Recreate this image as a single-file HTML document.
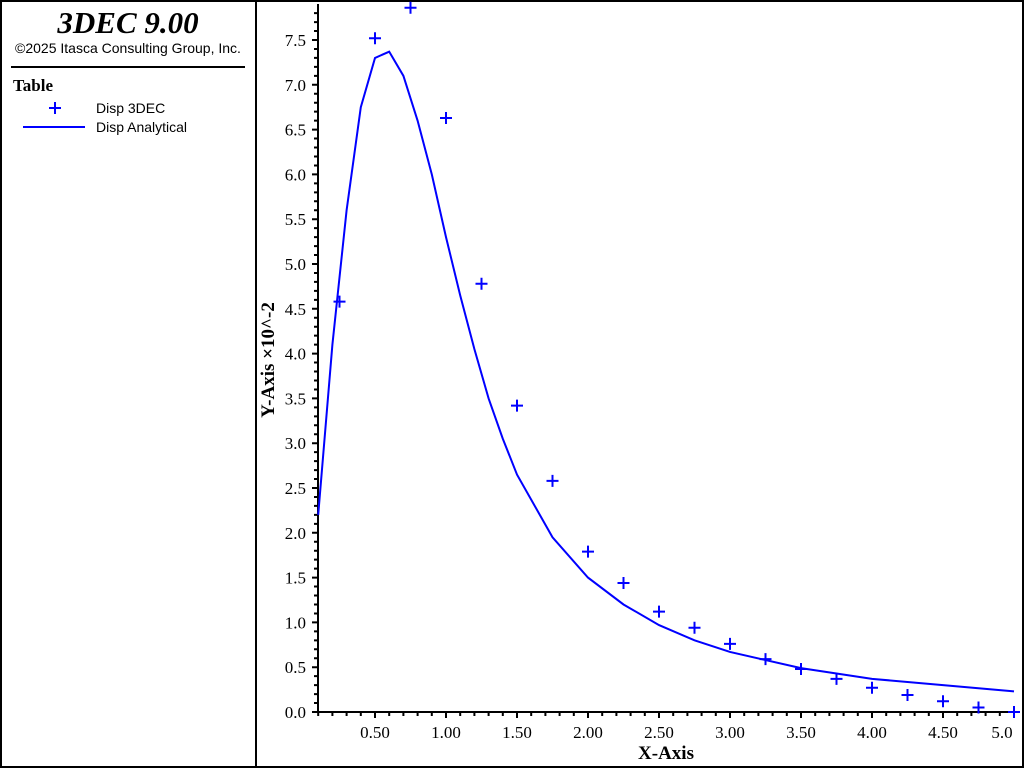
<!DOCTYPE html>
<html><head><meta charset="utf-8"><style>
body{margin:0;background:#fff;}
svg{display:block;font-family:"Liberation Serif",serif;}
</style></head><body>
<svg width="1024" height="768">
<rect x="1" y="1" width="1022" height="766" fill="#fff" stroke="#000" stroke-width="2"/>
<line x1="256" y1="0" x2="256" y2="768" stroke="#000" stroke-width="2"/>
<text x="128" y="33" text-anchor="middle" font-size="31" font-weight="bold" font-style="italic">3DEC 9.00</text>
<text x="128" y="53" text-anchor="middle" font-size="14" font-family="Liberation Sans, sans-serif">©2025 Itasca Consulting Group, Inc.</text>
<line x1="11" y1="67" x2="245" y2="67" stroke="#000" stroke-width="2"/>
<text x="13" y="91" font-size="17" font-weight="bold">Table</text>
<g>
<path d="M49 108h12M55 102v12" stroke="#00f" stroke-width="2"/>
<text x="96" y="113" font-size="14" font-family="Liberation Sans, sans-serif">Disp 3DEC</text></g>
<g>
<line x1="23" y1="127" x2="85" y2="127" stroke="#00f" stroke-width="2"/>
<text x="96" y="132" font-size="14" font-family="Liberation Sans, sans-serif">Disp Analytical</text></g>
<g id="axes"></g>
<g id="marks"></g>
<text x="666" y="759" text-anchor="middle" font-size="19" font-weight="bold">X-Axis</text>
<text transform="translate(274,360) rotate(-90)" text-anchor="middle" font-size="19" font-weight="bold">Y-Axis ×10^-2</text>
</svg>
<script>
const xTicks=[0.5,1,1.5,2,2.5,3,3.5,4,4.5,5];
const xTickLabels=["0.50","1.00","1.50","2.00","2.50","3.00","3.50","4.00","4.50","5.0"];
const yTicks=[0,0.5,1,1.5,2,2.5,3,3.5,4,4.5,5,5.5,6,6.5,7,7.5];
const pointsX=[0.25,0.5,0.75,1,1.25,1.5,1.75,2,2.25,2.5,2.75,3,3.25,3.5,3.75,4,4.25,4.5,4.75,5];
const pointsY=[4.58,7.52,7.86,6.63,4.78,3.42,2.58,1.79,1.44,1.12,0.94,0.76,0.59,0.48,0.37,0.27,0.19,0.12,0.05,0.0];
const lineX=[0.1,0.2,0.3,0.4,0.5,0.6,0.7,0.8,0.9,1.0,1.1,1.2,1.3,1.4,1.5,1.75,2.0,2.25,2.5,2.75,3.0,3.5,4.0,4.5,5.0];
const lineY=[2.2,4.1,5.6,6.75,7.3,7.37,7.1,6.6,6.0,5.3,4.65,4.05,3.5,3.05,2.65,1.95,1.5,1.2,0.97,0.8,0.67,0.49,0.37,0.3,0.23];
const X0=318,X1=1014,Y0=712;
const sx=v=>446+(v-1)*142;
const sy=v=>Y0-v*89.6;
const NS="http://www.w3.org/2000/svg";
const ax=document.getElementById('axes'),mk=document.getElementById('marks');
function el(t,a,p){const e=document.createElementNS(NS,t);for(const k in a)e.setAttribute(k,a[k]);p.appendChild(e);return e;}
let d=`M${X0} 4V${Y0}H${X1+2}`;
for(let v=0.1;v<=5.001;v+=0.1){const x=sx(v);const maj=Math.abs(v*2-Math.round(v*2))<1e-6;d+=`M${x} ${Y0}v${maj?6:4}`;}
for(let v=0;v<=7.85;v+=0.1){const y=sy(v);const maj=Math.abs(v*2-Math.round(v*2))<1e-6;d+=`M${X0} ${y}h${maj?-6:-4}`;}
const axp=el('path',{d:d,stroke:'#000','stroke-width':2,fill:'none'},ax);


xTicks.forEach((v,i)=>{const t=el('text',{x:sx(v)-(i==xTicks.length-1?12:0),y:738,'text-anchor':'middle','font-size':17},ax);t.textContent=xTickLabels[i];

});
yTicks.forEach(v=>{const t=el('text',{x:306,y:sy(v)+6,'text-anchor':'end','font-size':17},ax);t.textContent=v.toFixed(1);

});
const line=el('polyline',{points:lineX.map((x,i)=>sx(x)+','+sy(lineY[i])).join(' '),fill:'none',stroke:'#00f','stroke-width':2},mk);


pointsX.forEach((x,i)=>{const cx=sx(x),cy=sy(pointsY[i]);const p=el('path',{d:`M${cx-6} ${cy}h12M${cx} ${cy-6}v12`,stroke:'#00f','stroke-width':2},mk);

});
</script>
</body></html>
